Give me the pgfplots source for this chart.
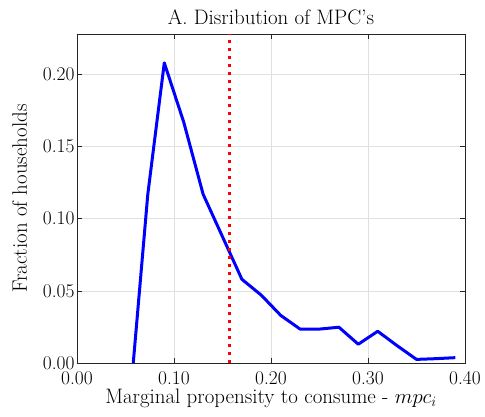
\documentclass[border=0pt]{standalone}
\usepackage{fontspec}
\usepackage{pgfplots}
\pgfplotsset{compat=1.18}
\begin{document}
\begin{tikzpicture}
\begin{axis}[
  at={(0,0)}, anchor=south west,
  scale only axis,
  width=388bp, height=329bp,
  xmin=0, xmax=0.4, ymin=0, ymax=0.228,
  xtick={0,0.1,0.2,0.3,0.4},
  ytick={0,0.05,0.1,0.15,0.2},
  /pgf/number format/assume math mode=true,
  /pgf/number format/fixed,
  /pgf/number format/fixed zerofill,
  /pgf/number format/precision=2,
  scaled ticks=false,
  tick align=inside,
  major tick length=5bp,
  axis line style={black!85, line width=0.6bp},
  every tick/.style={black!85, line width=0.6bp},
  grid=major,
  major grid style={black!12, line width=0.6bp},
  tick label style={font=\fontsize{19.5}{21}\selectfont},
  xticklabel style={yshift=-5bp},
  yticklabel style={xshift=1bp},
  label style={font=\fontsize{21}{23}\selectfont},
  title style={font=\fontsize{21}{23}\selectfont, yshift=0bp},
  title={A. Disribution of MPC's},
  xlabel={Marginal propensity to consume - $mpc_i$},
  ylabel={Fraction of households},
  xlabel style={yshift=3bp},
  ylabel style={yshift=9bp},
]
\addplot[blue, line width=3bp, line join=round] coordinates {
(0.058,0) (0.073,0.117) (0.090,0.208) (0.110,0.167) (0.130,0.117)
(0.150,0.0875) (0.170,0.058) (0.190,0.047) (0.210,0.033) (0.230,0.0235)
(0.250,0.0235) (0.270,0.0248) (0.290,0.013) (0.310,0.022) (0.330,0.012)
(0.350,0.0025) (0.370,0.003) (0.390,0.0037)
};
\addplot[red, line width=2.8bp, dash pattern=on 3bp off 5bp] coordinates {(0.157,0) (0.157,0.228)};
\end{axis}
\pgfresetboundingbox
\path (-77bp,-53.3bp) rectangle (408bp,363bp);
\end{tikzpicture}
\end{document}
